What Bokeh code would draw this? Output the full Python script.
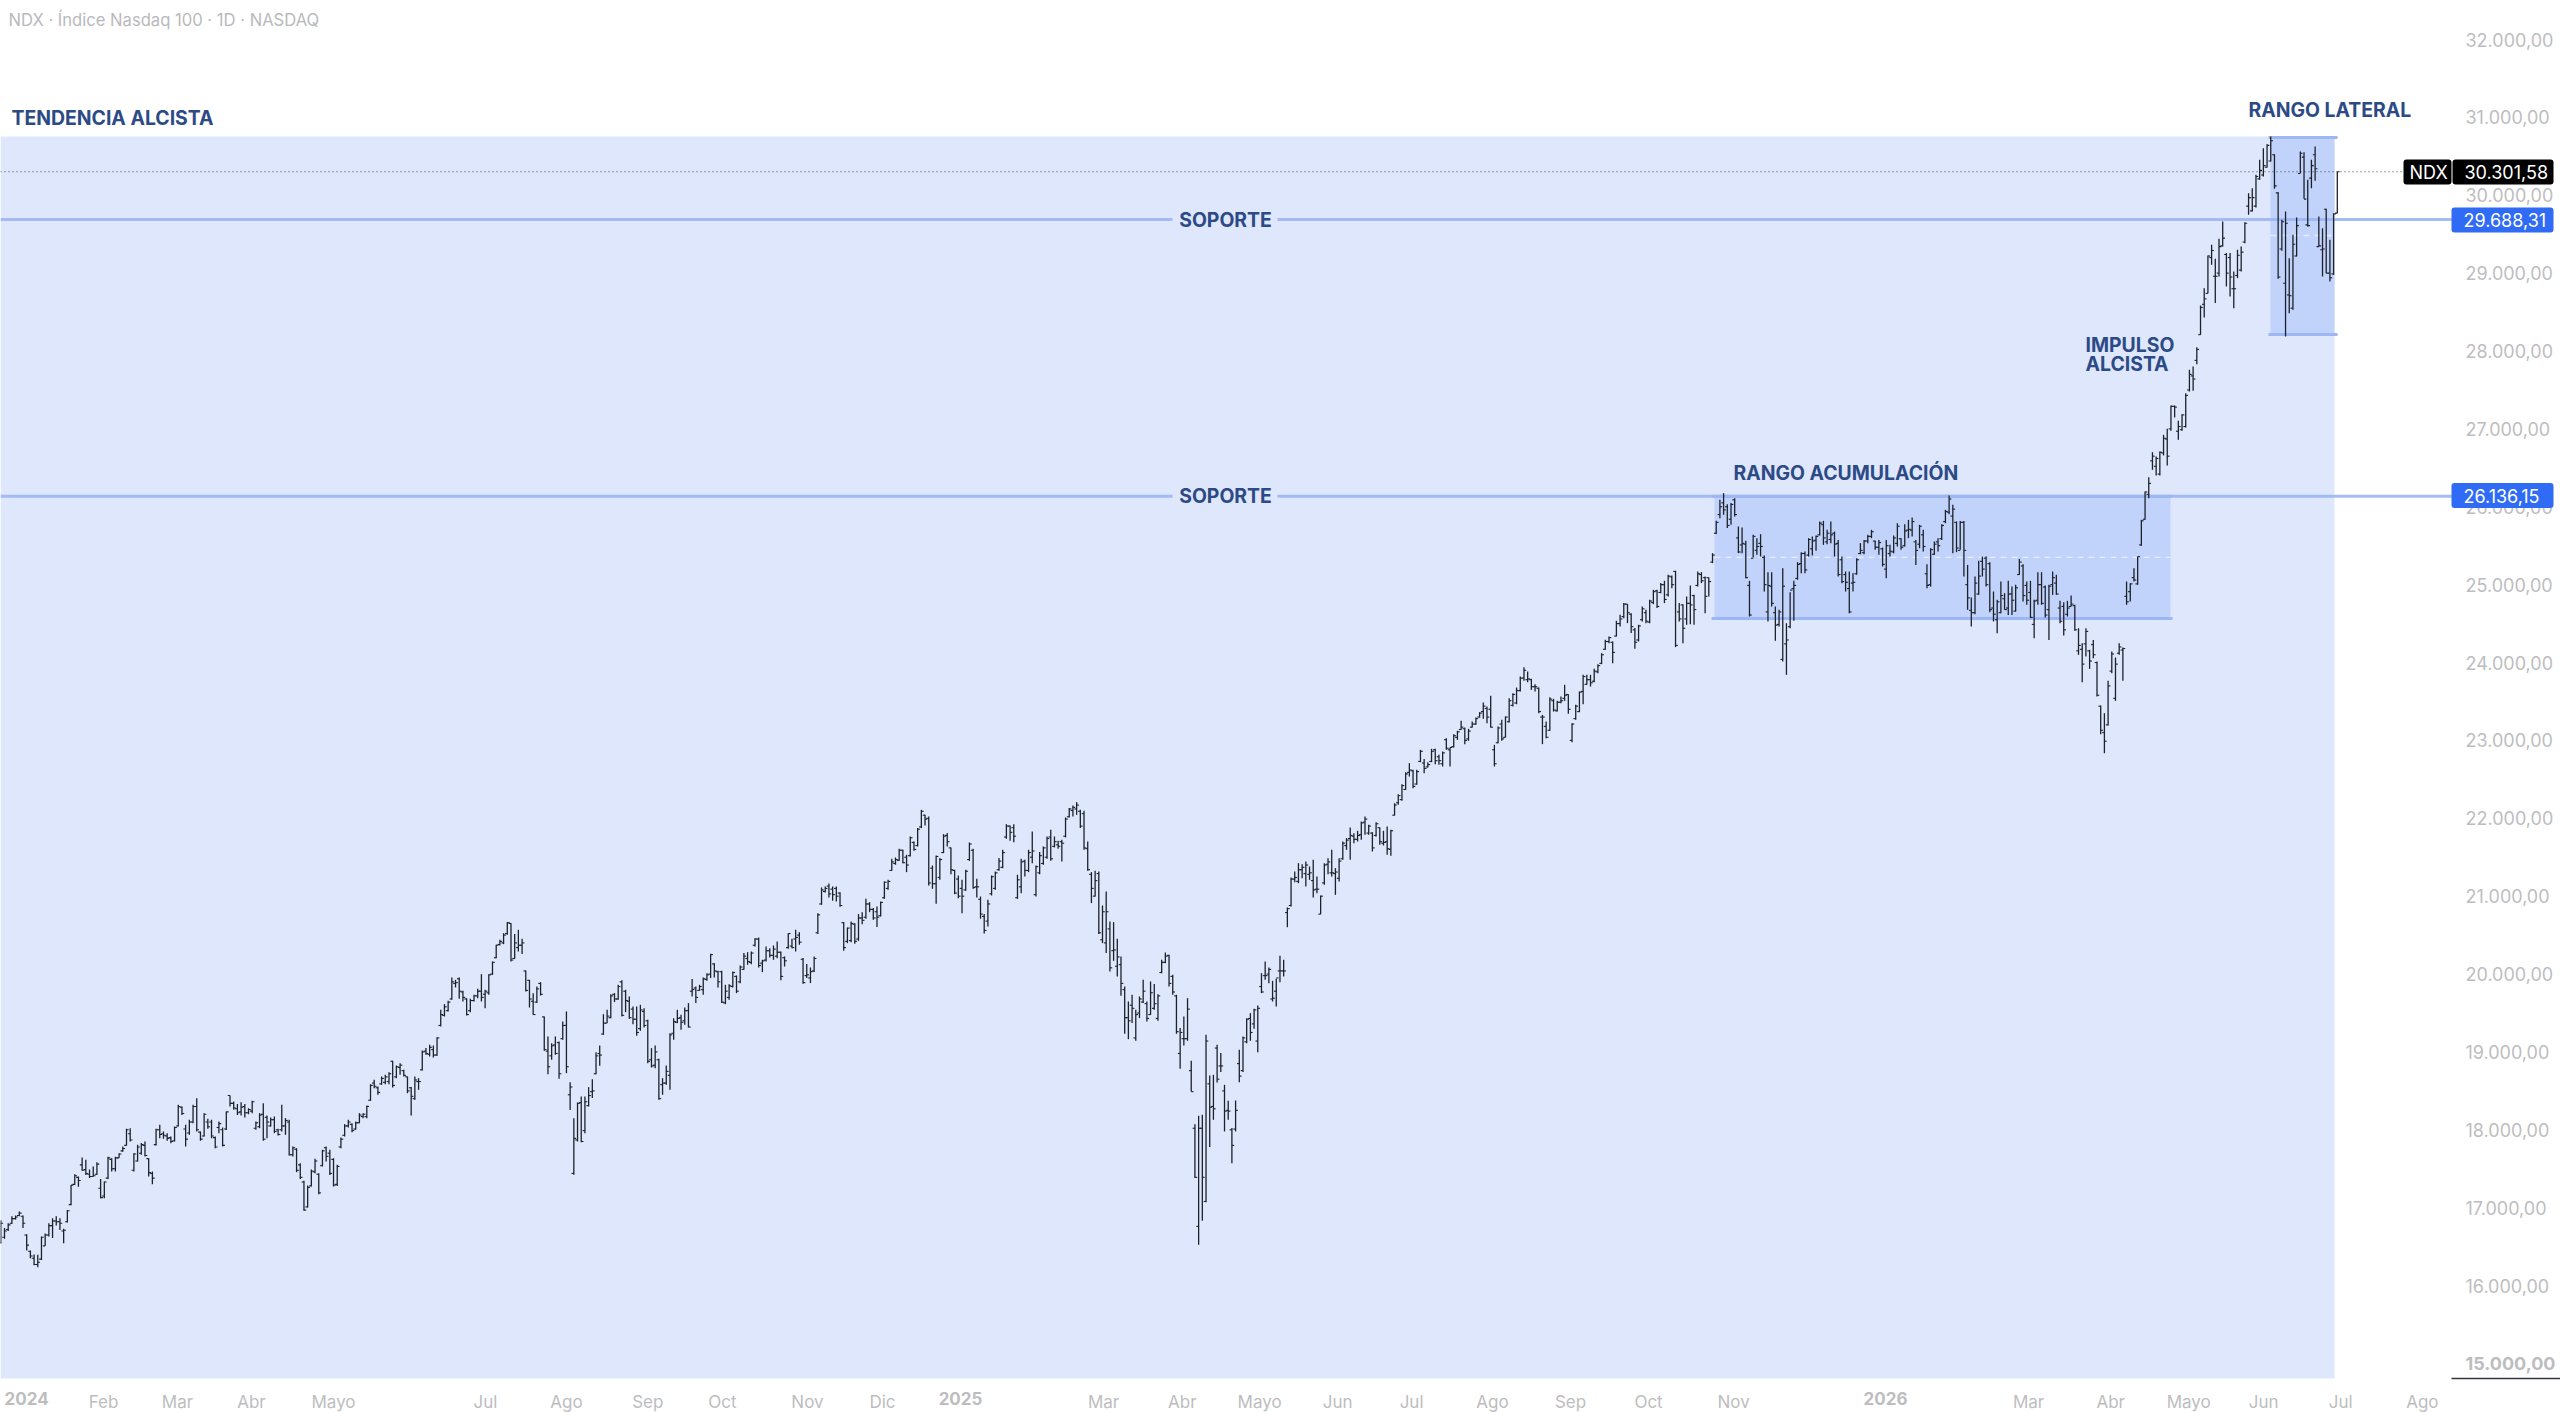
from bokeh.embed import file_html
from bokeh.resources import INLINE
from bokeh.plotting import figure
from bokeh.models import Range1d, LinearAxis, FixedTicker
from bokeh.core.properties import value

highs = [
16840,16740,16800,16890,16900,16950,16900,16660,16450,16400,
16395,16630,16670,16800,16865,16890,16865,16730,16970,17290,
17430,17400,17645,17615,17490,17530,17585,17370,17335,17655,
17636,17655,17700,17785,18013,18021,17700,17807,17830,
17850,17636,17465,18013,18064,17978,17957,17914,18043,18321,
18300,18064,18128,18321,18406,17978,18214,18141,18128,17914,
18107,18030,18235,18441,18364,18330,18355,18330,18278,18372,
18107,18214,18342,18184,18158,18171,18013,18321,18150,18128,
17786,17764,17572,17345,17285,17490,17627,17443,17743,17786,
17743,17636,17550,17900,18073,18128,18085,18107,18214,18214,
18312,18586,18642,18556,18685,18706,18740,18886,18826,18856,
18770,18685,18550,18685,18663,19019,19049,19092,19083,19190,
19541,19614,19657,19956,19926,19956,19785,19690,19682,19734,
19811,19999,19798,19999,20162,20376,20440,20525,20667,20654,
20513,20568,20453,20046,19926,19755,19840,19896,19455,19199,
19113,19199,19134,19391,19520,18612,18150,18351,18428,18428,
18548,18650,18997,19083,19485,19541,19742,19755,19862,19922,
19798,19712,19584,19584,19605,19562,19413,19049,19083,18912,
18664,18826,19241,19434,19541,19477,19571,19627,19935,19841,
19862,19956,20012,20260,20140,20042,20042,19862,19870,20033,
19982,20110,20269,20281,20290,20461,20470,20183,20354,20333,
20367,20418,20290,20226,20525,20453,20568,20538,20205,20128,
20085,20226,20782,21112,21125,21163,21125,21125,21052,20667,
20598,20675,20654,20770,20795,20966,20924,20847,20868,20932,
21189,21210,21480,21497,21608,21596,21531,21767,21703,21874,
22109,22045,22024,21394,21523,21489,21797,21810,21626,21339,
21266,21210,21339,21690,21608,21223,20996,20770,20953,21266,
21317,21489,21596,21925,21908,21925,21275,21480,21467,21596,
21831,21394,21566,21638,21767,21852,21767,21711,21724,22011,
22131,22165,22208,22109,22096,21703,21309,21326,21317,20881,
21061,20675,20667,20453,20226,19841,19648,19734,19541,19712,
19926,19648,19905,19871,19742,20183,20277,20247,19990,19734,
19306,19455,19691,18886,18073,18180,18193,19220,18698,18706,
19092,18985,18578,18373,18022,18377,19027,19199,19434,19498,
19554,19597,20012,20162,20085,19913,19939,20234,20183,20855,
21240,21317,21424,21411,21445,21381,21467,21253,21009,21424,
21488,21595,21360,21488,21702,21745,21882,21809,21839,21959,
22023,21916,21822,21950,21882,21839,21895,21852,22194,22310,
22438,22592,22708,22622,22622,22879,22763,22720,22892,22892,
22815,22858,23029,22909,23080,23123,23251,23166,23149,23243,
23294,23363,23487,23435,23572,22943,23179,23264,23307,23542,
23607,23679,23821,23940,23885,23791,23722,23679,23328,23243,
23555,23534,23508,23564,23714,23594,23221,23457,23628,23842,
23842,23842,23919,23979,24120,24292,24335,24270,24536,24613,
24763,24750,24634,24442,24485,24720,24677,24806,24934,24934,
25020,25050,25127,25118,25178,24763,24750,24848,24990,24870,
25169,25161,25105,25092,25405,25820,26090,26175,26034,26047,
26111,25747,25734,25563,25049,25640,25597,25648,25374,25160,
25160,24719,24677,25212,24505,24903,25049,25289,25417,25426,
25597,25618,25631,25811,25819,25704,25811,25682,25575,25361,
25169,25169,25147,25340,25533,25575,25640,25704,25563,25575,
25477,25575,25511,25631,25789,25597,25777,25832,25862,25575,
25768,25704,25263,25468,25554,25597,25777,25961,26145,26025,
25811,25819,25819,25254,24835,25105,25306,25361,25361,25289,
24912,24805,25040,24891,25049,24976,24998,25331,25263,25040,
25049,24805,25160,25160,24989,24998,25169,25126,24792,24775,
24792,24861,24741,24441,24249,24441,24163,24291,24013,23448,
23350,23765,24142,24065,24249,24193,25040,25019,25212,25361,
25832,26196,26380,26701,26646,26710,26924,27001,27301,27301,
27104,27189,27459,27759,27801,28050,28585,28807,29227,29364,
29184,29441,29663,29257,29257,29021,29299,29342,29655,30027,
30091,30262,30455,30605,30656,30755,30528,30040,29685,29792,
29192,29492,29715,30562,30553,30198,30455,30626,29727,29578,
29826,29428,29770,30301.58]

lows = [
16540,16600,16700,16790,16850,16890,16740,16450,16350,16260,
16235,16330,16510,16630,16610,16770,16715,16545,16810,17030,
17290,17270,17475,17420,17380,17400,17420,17120,17120,17370,
17465,17465,17640,17720,17800,17850,17465,17593,17680,
17657,17400,17300,17800,17893,17884,17860,17828,17850,18043,
18190,17786,17936,18085,17978,17860,17914,18013,17893,17764,
17957,17786,17998,18300,18257,18190,18184,18158,18200,18214,
18000,18021,17860,17893,18043,17957,17927,17978,17936,17670,
17657,17456,17370,16960,17003,17272,17443,17174,17530,17593,
17420,17272,17280,17764,17914,18030,17970,18000,18085,18150,
18150,18372,18535,18450,18578,18586,18586,18543,18663,18706,
18685,18470,18184,18385,18514,18762,18963,18942,18930,18950,
19327,19455,19520,19670,19828,19682,19648,19468,19511,19648,
19690,19648,19562,19734,19990,20204,20367,20384,20504,20162,
20196,20290,20256,19776,19571,19477,19627,19725,19015,18715,
18899,18963,18655,19156,18728,18253,17422,17850,17842,17957,
18300,18407,18715,18822,19220,19370,19434,19640,19670,19455,
19511,19425,19357,19207,19271,19314,18856,18800,18792,18385,
18450,18578,18514,19156,19370,19284,19348,19314,19712,19627,
19785,19734,19914,19948,19956,19828,19627,19614,19670,19828,
19755,19883,20055,20119,20127,20354,20085,20025,20162,20213,
20183,20204,19922,20097,20324,20333,20290,20376,19875,19948,
19884,20025,20513,20889,21048,20984,20941,20932,20864,20299,
20397,20410,20389,20427,20641,20710,20795,20697,20603,20740,
20966,21082,21326,21403,21454,21424,21309,21510,21583,21638,
21874,21908,21138,21095,20902,21210,21553,21638,21283,21026,
20975,20782,21069,21454,21095,20984,20710,20521,20611,21009,
21082,21326,21360,21737,21711,21694,20966,21039,21253,21309,
21424,20996,21283,21403,21480,21454,21626,21608,21446,21754,
22011,22024,22045,21874,21596,21326,20911,20996,20513,20397,
20269,20033,20170,19969,19721,19233,19164,19370,19143,19434,
19627,19391,19477,19541,19400,20012,20140,19841,19734,19233,
18783,19083,19143,18492,17380,16524,16832,17071,17778,18129,
18608,18741,17979,18129,17572,17979,18612,18741,19113,19143,
19297,18997,19755,19926,19883,19648,19584,19896,19969,20602,
20867,21180,21167,21231,21124,21210,20983,21039,20769,21146,
21283,21253,21017,21188,21467,21595,21467,21681,21702,21723,
21788,21788,21574,21766,21659,21651,21531,21518,22036,22173,
22224,22365,22537,22387,22430,22721,22579,22652,22720,22695,
22687,22665,22879,22665,22909,23007,23136,22952,22995,23166,
23200,23294,23277,23221,23166,22665,22965,22995,23037,23230,
23435,23465,23628,23765,23748,23649,23628,23350,22952,23029,
23123,23371,23371,23478,23508,23341,22977,23264,23363,23465,
23714,23692,23748,23863,23979,24164,24249,23992,24335,24463,
24570,24506,24378,24176,24271,24527,24506,24506,24750,24699,
24891,24763,24848,24955,24198,24527,24249,24485,24493,24485,
24977,25020,24634,24848,25276,25649,25854,25897,25726,25769,
25876,25405,25404,25083,24591,25349,25383,25361,24912,24527,
24720,24279,24463,24013,23842,24441,24535,25062,25147,25147,
25361,25374,25434,25631,25511,25520,25533,25361,25105,25019,
24912,24634,24912,25126,25391,25391,25533,25597,25447,25383,
25233,25083,25361,25404,25490,25447,25490,25597,25618,25254,
25468,25426,24955,24976,25383,25426,25575,25789,25905,25404,
25417,25447,25105,24677,24463,24621,24869,25105,24976,24647,
24527,24377,24634,24677,24612,24612,24655,25126,24784,24741,
24570,24313,24741,24741,24578,24291,24869,24869,24505,24347,
24591,24719,24407,24099,23748,24077,23919,24056,23564,23080,
22836,23191,23863,23508,24099,23765,24741,24784,25040,24998,
25499,25832,26111,26475,26402,26402,26659,26530,26975,27147,
26860,26975,27018,27480,27489,27831,28208,28431,28743,29107,
28615,28957,29342,28829,28700,28550,28936,29021,29385,29749,
29792,29843,30198,30241,30357,30434,30083,28927,29287,28187,
28486,28529,29214,30284,29954,29599,30091,30185,29342,28957,
28998,28893,28978,29770]

opens = [
16550,16620,16720,16800,16860,16900,16890,16650,16440,16350,
16270,16340,16510,16650,16770,16830,16820,16700,16820,17040,
17300,17390,17550,17490,17430,17400,17430,17250,17150,17380,
17620,17500,17640,17730,17800,17950,17480,17600,17700,
17800,17630,17440,17810,18000,17950,17920,17900,17860,18050,
18290,18010,17960,18100,18300,17970,17920,18100,18100,17900,
18030,18000,18010,18440,18340,18270,18230,18300,18220,18240,
18020,18040,18200,18160,18050,18130,18000,18000,18050,18100,
17680,17750,17550,17330,17010,17280,17460,17430,17540,17770,
17700,17620,17300,17780,17930,18050,18070,18010,18090,18170,
18170,18380,18600,18540,18590,18610,18620,18880,18680,18800,
18760,18680,18540,18400,18620,18770,19010,18970,19030,18960,
19340,19470,19530,19680,19880,19940,19770,19680,19530,19660,
19720,19780,19740,19760,20000,20210,20380,20400,20520,20650,
20200,20340,20370,20040,19920,19650,19640,19880,19450,19010,
18950,19090,19120,19170,19340,18450,17440,17870,18350,17990,
18310,18490,18720,18980,19230,19370,19440,19740,19680,19900,
19780,19650,19550,19420,19300,19520,19400,18900,18830,18900,
18580,18600,18700,19240,19380,19440,19400,19530,19780,19820,
19790,19800,19930,20000,20130,20030,20030,19630,19700,19840,
19970,19900,20060,20200,20150,20370,20450,20140,20180,20300,
20240,20230,20280,20210,20340,20360,20450,20500,20190,19980,
19950,20040,20530,20900,21060,21130,21090,21100,21040,20660,
20420,20430,20640,20450,20720,20730,20900,20830,20800,20750,
20980,21100,21330,21420,21460,21590,21500,21520,21690,21650,
21890,22040,22000,21360,21160,21240,21560,21780,21620,21330,
21220,21100,21080,21470,21590,21120,20960,20740,20680,21030,
21100,21340,21370,21760,21900,21880,20980,21120,21450,21330,
21500,21020,21300,21420,21500,21760,21640,21660,21700,21770,
22020,22100,22120,22090,22060,21610,21280,21000,21290,20440,
20400,20580,20300,20100,20120,19800,19440,19600,19180,19500,
19640,19620,19480,19560,19430,20020,20150,20240,19970,19720,
18980,19170,19170,18760,18020,16760,18020,17080,18590,18300,
19050,18820,18500,18250,18000,18010,18850,18760,19130,19430,
19360,19140,19840,19980,20000,19680,19780,20040,20040,20790,
20880,21220,21190,21340,21290,21280,21200,21090,20770,21170,
21410,21300,21290,21230,21480,21650,21740,21770,21730,21790,
21950,21810,21810,21780,21880,21680,21700,21600,22040,22200,
22240,22370,22590,22610,22440,22730,22710,22660,22730,22880,
22790,22700,23010,22880,22920,23040,23140,23150,23020,23170,
23210,23300,23370,23410,23400,22880,22970,23210,23040,23240,
23450,23480,23640,23800,23780,23780,23690,23670,23300,23180,
23130,23510,23380,23490,23540,23590,23000,23280,23370,23630,
23720,23780,23760,23880,23990,24170,24270,24260,24340,24500,
24590,24750,24620,24420,24290,24550,24640,24520,24770,24920,
24900,25000,24870,25100,25170,24650,24740,24560,24760,24860,
24990,25130,25090,25090,25290,25660,25900,26050,26000,25840,
26090,25600,25510,25520,24990,25340,25440,25530,25350,24650,
24980,24640,24490,24040,24240,24460,24950,25080,25270,25400,
25380,25460,25570,25640,25770,25550,25580,25660,25530,25320,
25130,24950,25020,25140,25400,25410,25560,25620,25560,25480,
25460,25200,25400,25420,25530,25590,25500,25700,25700,25550,
25520,25640,25140,25000,25390,25550,25590,25810,25930,25880,
25800,25440,25800,25000,24670,24640,24880,25300,25340,25270,
24700,24550,24640,24820,24700,24880,24660,25130,25240,24990,
24900,24490,24800,25000,24970,24680,25000,25020,24700,24720,
24620,24720,24730,24150,24170,24240,24150,24230,24000,23440,
23100,23200,23890,23540,24120,24160,24850,24910,25090,25010,
25510,25840,26160,26590,26520,26420,26690,26870,27000,27290,
26970,26990,27030,27500,27680,27880,28210,28600,28740,29200,
28960,29000,29350,29240,29200,28800,28970,29040,29400,29860,
29800,29860,30210,30260,30360,30440,30520,30030,29310,28870,
28720,28550,29220,30280,30490,29620,30220,30520,29340,29300,
29820,29000,28990,29770]

closes = [
16800,16700,16780,16860,16880,16930,16800,16520,16380,16270,
16300,16620,16650,16770,16830,16820,16800,16710,16960,17290,
17410,17350,17480,17440,17400,17410,17560,17130,17330,17640,
17500,17640,17690,17760,18000,17870,17690,17780,17810,
17670,17450,17380,18000,17940,17930,17890,17850,18030,18300,
18210,17880,18100,18300,18000,17880,18200,18040,17920,17780,
18080,17800,18230,18340,18280,18220,18290,18220,18260,18360,
18090,18190,17880,18100,18130,17980,17940,18050,18120,17680,
17770,17480,17390,16970,17260,17470,17600,17190,17730,17660,
17440,17290,17530,17880,18050,18100,17990,18090,18190,18200,
18300,18570,18560,18480,18660,18680,18720,18570,18810,18830,
18700,18500,18430,18640,18620,19000,18980,19060,18960,19180,
19480,19580,19640,19900,19890,19780,19700,19480,19660,19720,
19780,19700,19780,19990,20150,20370,20420,20500,20660,20180,
20400,20370,20400,19790,19680,19480,19810,19740,19030,18810,
19080,18980,18720,19340,18810,18550,17890,18340,17850,18360,
18440,18500,18950,18960,19370,19460,19720,19680,19840,19470,
19660,19440,19420,19250,19540,19340,18880,18820,19000,18400,
18600,18750,19220,19390,19430,19380,19530,19320,19800,19700,
19840,19940,19990,20250,20040,19900,19640,19780,19850,20020,
19780,20090,20230,20160,20270,20450,20110,20170,20300,20240,
20320,20280,19970,20170,20520,20340,20470,20410,19890,19990,
20030,20200,20760,21080,21100,21030,21020,21000,20880,20340,
20590,20650,20420,20720,20690,20900,20830,20720,20730,20920,
21180,21190,21440,21470,21590,21430,21400,21750,21600,21860,
22090,21990,21170,21160,21510,21470,21770,21700,21340,21040,
21000,21000,21320,21670,21110,21120,20770,20560,20900,21250,
21300,21450,21560,21900,21820,21770,21210,21440,21330,21560,
21580,21380,21520,21620,21740,21480,21700,21640,21680,21990,
22120,22140,22170,21900,21620,21340,21100,21200,20530,20800,
20800,20080,20310,20220,19880,19440,19400,19560,19480,19680,
19780,19430,19760,19620,19720,20150,20230,19880,19770,19260,
19250,19170,19550,18490,17390,18020,17390,19140,18290,18270,
18650,18820,18240,18240,17800,18250,18690,19180,19420,19250,
19540,19560,19770,19980,20060,19690,19950,20040,20040,20840,
21220,21240,21340,21370,21400,21300,21080,21090,21000,21400,
21440,21300,21310,21450,21680,21720,21780,21730,21780,21940,
21990,21900,21620,21930,21700,21690,21610,21840,22170,22290,
22420,22570,22620,22410,22600,22860,22640,22690,22860,22740,
22740,22840,22900,22910,23060,23110,23170,23000,23120,23210,
23280,23350,23440,23300,23170,22700,23160,23020,23300,23510,
23590,23640,23800,23900,23790,23690,23690,23370,23300,23040,
23530,23390,23490,23510,23580,23400,23210,23440,23620,23820,
23780,23740,23890,23960,24100,24270,24320,24130,24500,24560,
24750,24640,24460,24260,24470,24690,24530,24790,24910,24720,
25000,24810,25110,25000,24220,24560,24440,24760,24740,24680,
25140,25050,24850,25040,25380,25800,26000,25960,25760,26030,
25900,25420,25530,25090,24610,25620,25490,25490,25000,24990,
24760,24480,24650,24980,24290,24930,24990,25260,25400,25190,
25580,25560,25620,25790,25600,25660,25640,25520,25130,25040,
25030,24650,25030,25320,25440,25560,25620,25680,25480,25540,
25260,25500,25430,25600,25750,25480,25690,25710,25810,25440,
25750,25490,24990,25450,25520,25500,25760,25940,26100,25970,
25470,25800,25440,24830,24640,25020,25110,25200,25000,24680,
24620,24780,24860,24680,24880,24800,24960,25290,24860,24800,
24580,24790,25000,24760,24610,24980,25090,24880,24530,24420,
24700,24750,24420,24220,23980,24400,24020,24100,23580,23130,
22990,23700,24110,23980,24200,24180,24780,25010,25060,25360,
25820,26190,26300,26650,26620,26700,26880,26650,27290,27280,
27030,27180,27430,27700,27640,28020,28560,28670,29220,29290,
28960,29340,29450,29000,28950,28800,29230,29270,29640,29970,
29970,30240,30320,30380,30640,30700,30120,28950,29660,29640,
28710,29370,29610,30540,29950,29610,30380,30340,29350,29310,
29000,28940,29760,30301.58]

assert len(highs) == len(lows) == len(opens) == len(closes)

month_labels = ["Feb","Mar","Abr","Mayo","Jul","Ago","Sep","Oct","Nov","Dic",
                "Mar","Abr","Mayo","Jun","Jul","Ago","Sep","Oct","Nov",
                "Mar","Abr","Mayo","Jun","Jul","Ago"]
month_pos = [27.8,47.8,67.8,90,131.1,153,175,195.2,218.2,238.5,
             298.3,319.6,340.5,361.6,381.6,403.5,424.6,445.7,468.7,
             548.5,570.7,591.8,612.1,632.9,655]
year_labels = ["2024","2025","2026"]
year_pos = [7,259.6,509.8]
price_ticks = list(range(16000,33000,1000))
price_labels = [f"{v//1000}.000,00" for v in price_ticks]
last_price = 30301.58
support_levels = [29688.31, 26136.15]
support_labels = ["29.688,31", "26.136,15"]
accum_range = (26136.15, 24566, 25350)
lateral_range = (30742, 28212, 29483)

PX_PER_BAR = 3.697
X0 = 0.3
PX_PER_UNIT = 0.07788
Y32 = 39
def xd(px): return (px - X0) / PX_PER_BAR
def yd(py): return 32000 - (py - Y32) / PX_PER_UNIT

W, H = 2560, 1412
p = figure(width=W, height=H, output_backend="svg", toolbar_location=None,
           x_range=Range1d(xd(0), xd(W)), y_range=Range1d(yd(H), yd(0)),
           x_axis_location=None, y_axis_location=None, min_border=0,
           background_fill_color="white", border_fill_color="white")
p.outline_line_color = None
p.grid.visible = False
p.styles = {"position": "absolute", "left": "0px", "top": "0px"}

BG = "#dee7fc"
RNG = "#c1d2fb"
EDGE = "#9db6f4"
INK = "#2c4a85"
GREY = "#bdbdc0"
BAR = "#1d2129"

# panels
p.quad(left=[xd(0)], right=[xd(2334)], top=[yd(136)], bottom=[yd(1378)], fill_color=BG, line_color=None)
p.quad(left=[xd(1714)], right=[xd(2170)], top=[accum_range[0]], bottom=[accum_range[1]], fill_color=RNG, line_color=None)
p.quad(left=[xd(2270)], right=[xd(2334)], top=[lateral_range[0]], bottom=[lateral_range[1]], fill_color=RNG, line_color=None)

# last price dotted line
p.line([xd(0), xd(2403)], [last_price, last_price], line_color="#3f4450", line_width=1.2, line_dash="1 3")

# support lines
for lv in support_levels:
    p.line([xd(0), xd(2452)], [lv, lv], line_color="#9cb5f4", line_alpha=0.9, line_width=3)

# range edges and mid lines
for y in accum_range[:2]:
    p.line([xd(1711), xd(2172)], [y, y], line_color=EDGE, line_width=3)
for y in lateral_range[:2]:
    p.line([xd(2268), xd(2337)], [y, y], line_color=EDGE, line_width=3)
p.line([xd(1714), xd(2170)], [accum_range[2]]*2, line_color="#e6edfe", line_width=1.4, line_dash="6 5")
p.line([xd(2270), xd(2334)], [lateral_range[2]]*2, line_color="#e6edfe", line_width=1.4, line_dash="6 5")

# OHLC bars
idx = list(range(len(highs)))
tick = 0.62
p.segment(x0=idx, x1=idx, y0=lows, y1=highs, line_color=BAR, line_width=1.3)
p.segment(x0=[i - tick for i in idx], x1=idx, y0=opens, y1=opens, line_color=BAR, line_width=1.1)
p.segment(x0=idx, x1=[i + tick for i in idx], y0=closes, y1=closes, line_color=BAR, line_width=1.1)

# axes
def style_axis(ax, bold=False, size="17px"):
    ax.axis_line_color = None
    ax.major_tick_line_color = None
    ax.minor_tick_line_color = None
    ax.major_label_text_font = "Inter"
    ax.major_label_text_font_size = size
    ax.major_label_text_color = GREY
    ax.major_label_text_font_style = "bold" if bold else "normal"

xa = LinearAxis(ticker=FixedTicker(ticks=month_pos),
                major_label_overrides=dict(zip(month_pos, month_labels)),
                fixed_location=yd(1378), major_label_standoff=7)
style_axis(xa)
p.add_layout(xa, "below")
xb = LinearAxis(ticker=FixedTicker(ticks=year_pos),
                major_label_overrides=dict(zip(year_pos, year_labels)),
                fixed_location=yd(1378), major_label_standoff=7)
style_axis(xb, bold=True)
p.add_layout(xb, "below")

ya = LinearAxis(ticker=FixedTicker(ticks=price_ticks),
                major_label_overrides=dict(zip(price_ticks, price_labels)),
                fixed_location=xd(2451), major_label_standoff=8)
style_axis(ya, size="18px")
p.add_layout(ya, "right")
yb = LinearAxis(ticker=FixedTicker(ticks=[15000]), major_label_overrides={15000: "15.000,00"},
                fixed_location=xd(2451), major_label_standoff=8)
style_axis(yb, bold=True, size="18px")
p.add_layout(yb, "right")
p.line([xd(2451), xd(2560)], [yd(1378)]*2, line_color="#33363d", line_width=1.3)

# text helper
def txt(px, py, s, color=INK, size="19.4px", style="bold", align="left", level="glyph"):
    p.text(x=[xd(px)], y=[yd(py)], text=[s], text_color=color, text_font=value("Inter"),
           text_font_size=size, text_font_style=style, text_align=align,
           text_baseline="middle", level=level)

txt(8, 19, "NDX · Índice Nasdaq 100 · 1D · NASDAQ", color="#b9b9bd", size="16.6px", style="normal")
txt(11, 117, "TENDENCIA ALCISTA")
txt(2248, 109, "RANGO LATERAL")
txt(1733, 472, "RANGO ACUMULACIÓN")
txt(2085, 344, "IMPULSO")
txt(2085, 363, "ALCISTA")

# SOPORTE labels, on a patch that interrupts the lines
for lv in support_levels:
    p.quad(left=[xd(1172)], right=[xd(1277)], top=[lv + 150], bottom=[lv - 150], fill_color=BG, line_color=None)
    p.text(x=[xd(1225)], y=[lv], text=["SOPORTE"], text_color=INK, text_font=value("Inter"),
           text_font_size="19.4px", text_font_style="bold", text_align="center", text_baseline="middle")

# price badges
def badge(left, right, yc, color, s, align="left", tx=None):
    p.quad(left=[xd(left)], right=[xd(right)], top=[yd(yc - 12.5)], bottom=[yd(yc + 12.5)],
           fill_color=color, line_color=None, border_radius=3, level="overlay")
    txt(tx if tx else left + 12, yc, s, color="white", size="18px", style="normal", level="overlay")

badge(2403, 2451, 171.5, "#000000", "NDX", tx=2409)
badge(2452, 2553, 171.5, "#000000", "30.301,58")
badge(2451, 2553, 219.5, "#2f6bf5", support_labels[0])
badge(2451, 2553, 495, "#2f6bf5", support_labels[1])

open("out.html", "w").write(file_html(p, INLINE))
